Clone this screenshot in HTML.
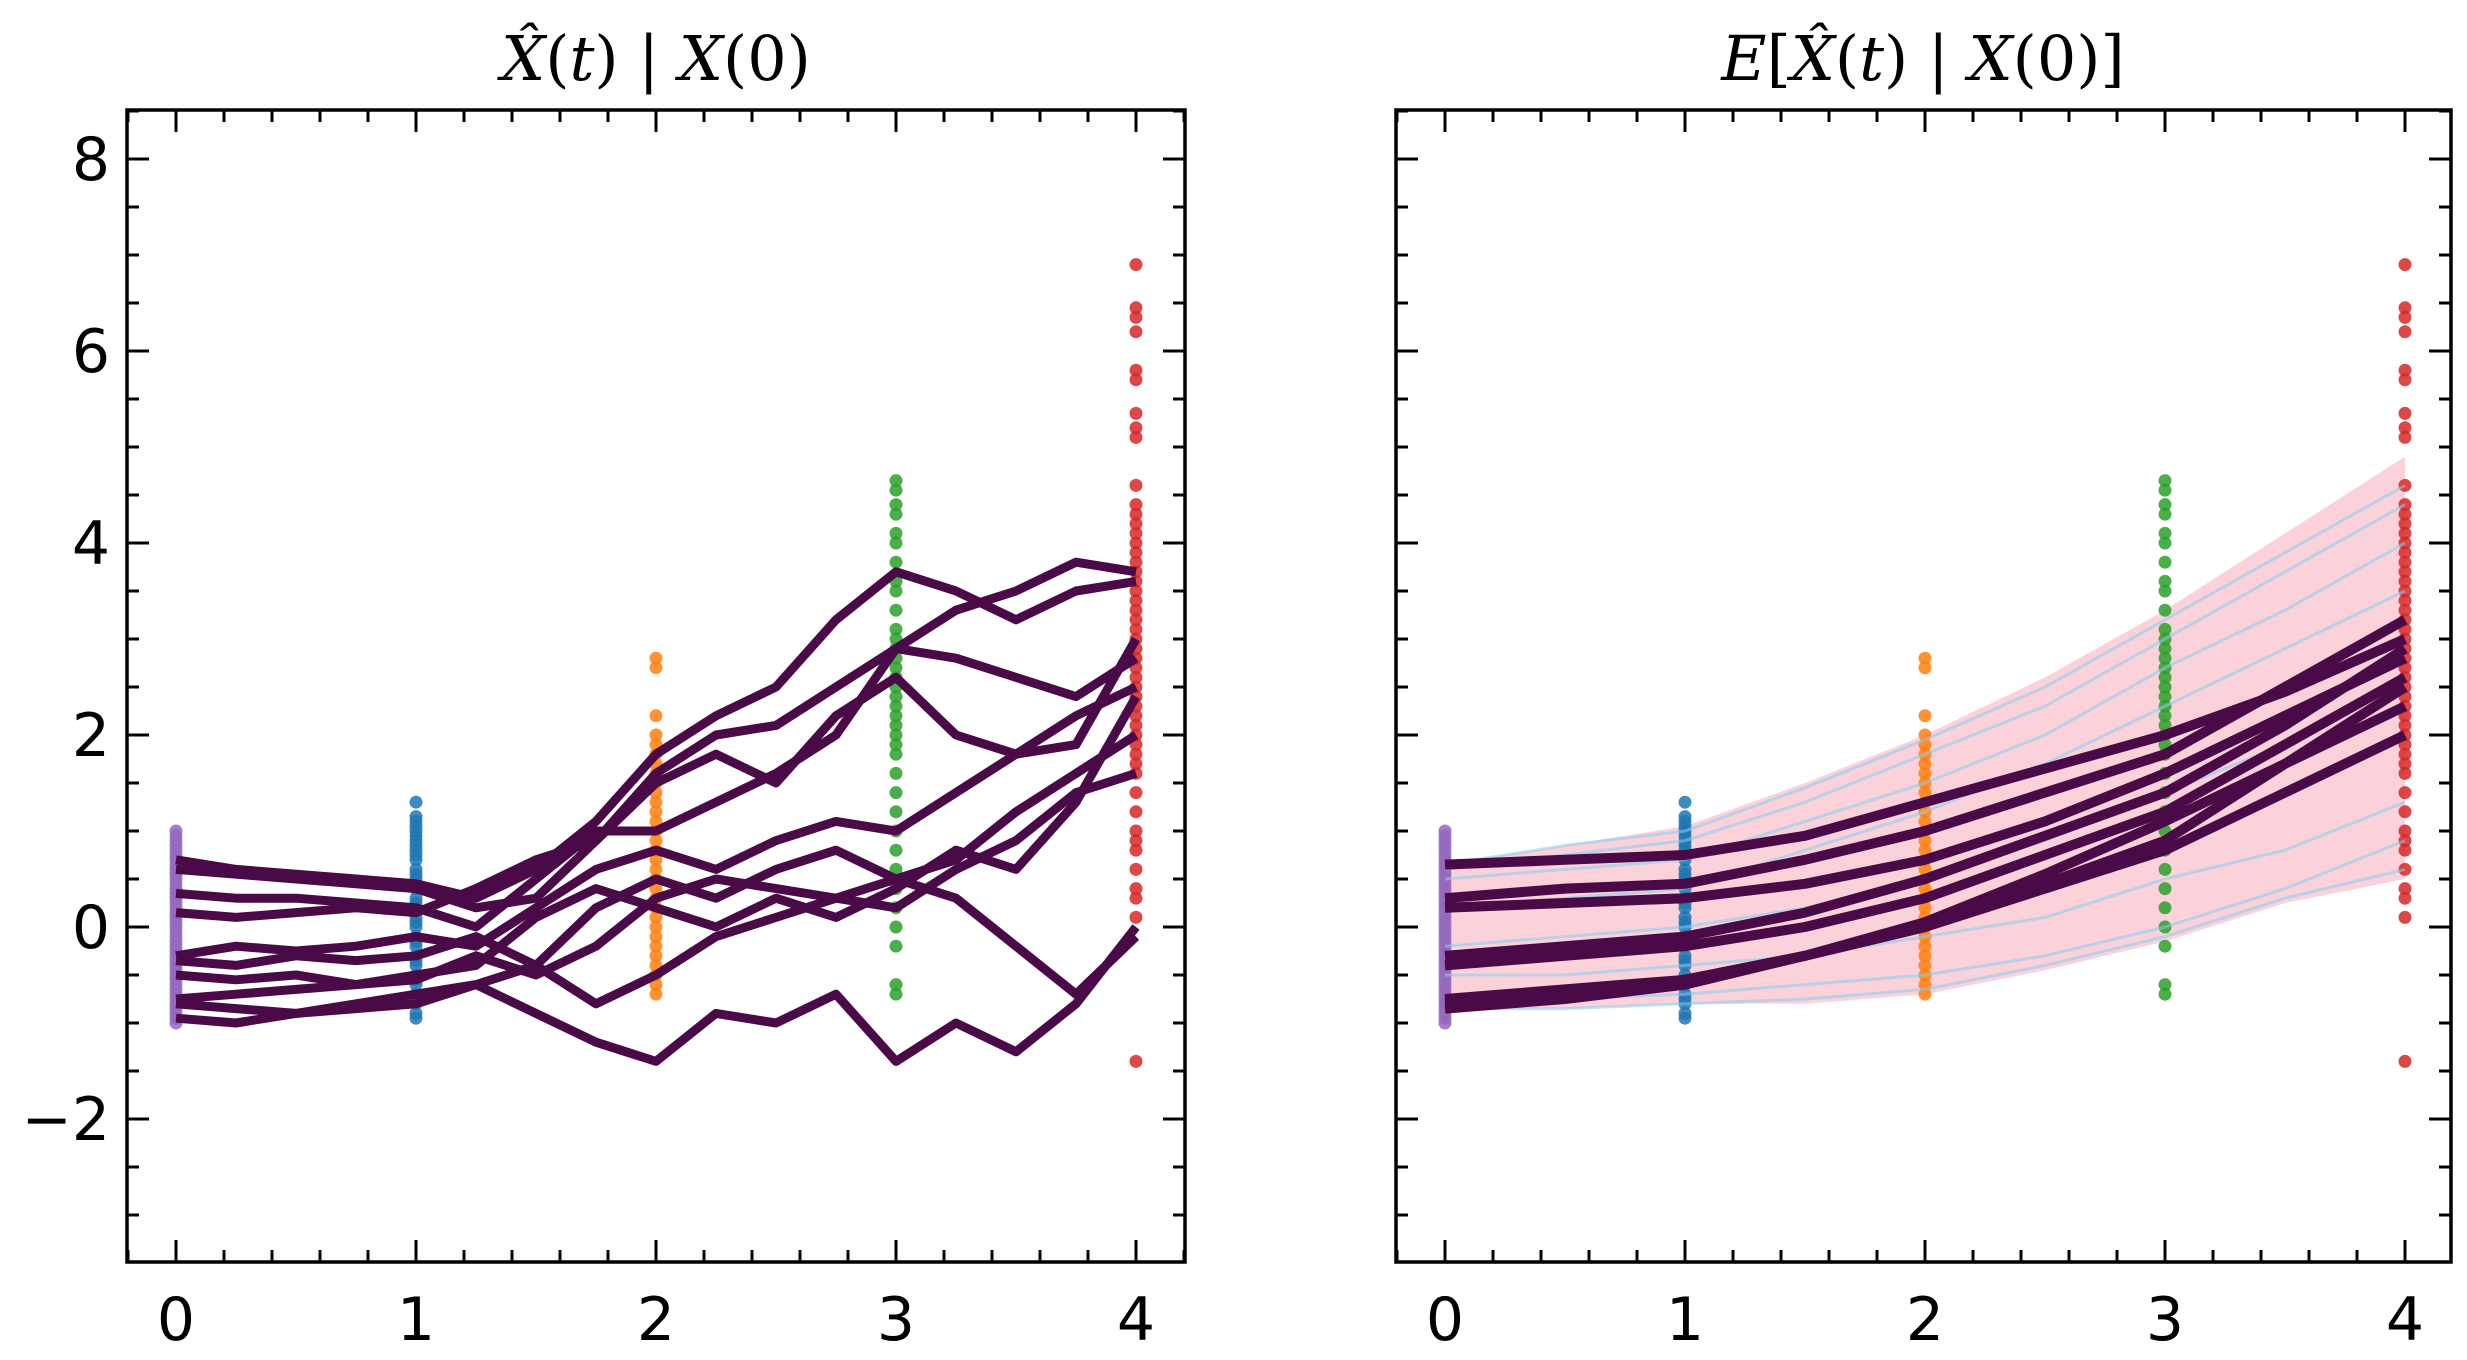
<!DOCTYPE html>
<html><head><meta charset="utf-8"><style>
html,body{margin:0;padding:0;background:#fff;}
svg{display:block;}
text{font-family:"DejaVu Sans","Liberation Sans",sans-serif;}
.ttl{font-family:"DejaVu Serif","Liberation Serif",serif;font-size:62px;}
.it{font-style:italic;}
</style></head><body>
<svg id="c" width="2467" height="1360" viewBox="0 0 2467 1360" xmlns="http://www.w3.org/2000/svg">
<text class="ttl" x="656" y="80" text-anchor="middle"><tspan class="it">X̂</tspan>(<tspan class="it">t</tspan>) | <tspan class="it">X</tspan>(0)</text>
<text class="ttl" x="1923" y="80" text-anchor="middle"><tspan class="it">E</tspan>[<tspan class="it">X̂</tspan>(<tspan class="it">t</tspan>) | <tspan class="it">X</tspan>(0)]</text>
</svg>
<script>
// ---- data ----
const tFine = [0,0.25,0.5,0.75,1,1.25,1.5,1.75,2,2.25,2.5,2.75,3,3.25,3.5,3.75,4];
const pathA = [0.7,0.6,0.55,0.5,0.45,0.3,0.6,1.1,1.8,2.2,2.5,3.2,3.7,3.5,3.2,3.5,3.6];
const pathB = [0.6,0.55,0.5,0.45,0.4,0.2,0.3,0.9,1.6,2.0,2.1,2.5,2.9,3.3,3.5,3.8,3.7];
const pathC = [0.35,0.3,0.3,0.25,0.2,0.0,0.5,1.0,1.0,1.3,1.6,2.0,2.9,2.8,2.6,2.4,2.8];
const pathD = [0.15,0.1,0.15,0.2,0.15,0.4,0.7,0.9,1.5,1.8,1.5,2.2,2.6,2.0,1.8,1.9,3.0];
const pathE = [-0.3,-0.2,-0.25,-0.2,-0.1,-0.2,0.2,0.6,0.8,0.6,0.9,1.1,1.0,1.4,1.8,2.2,2.5];
const pathF = [-0.35,-0.4,-0.3,-0.35,-0.3,-0.1,-0.4,0.2,0.5,0.3,0.6,0.8,0.5,0.7,1.2,1.6,2.0];
const pathG = [-0.5,-0.55,-0.5,-0.6,-0.5,-0.4,0.1,0.4,0.2,0.0,0.3,0.1,0.4,0.8,0.6,1.3,2.4];
const pathH = [-0.75,-0.7,-0.65,-0.6,-0.55,-0.3,-0.5,-0.2,0.3,0.5,0.4,0.3,0.2,0.6,0.9,1.4,1.6];
const pathI = [-0.8,-0.85,-0.9,-0.8,-0.7,-0.6,-0.4,-0.8,-0.5,-0.1,0.1,0.3,0.5,0.3,-0.2,-0.7,-0.1];
const pathJ = [-0.95,-1.0,-0.9,-0.85,-0.8,-0.6,-0.9,-1.2,-1.4,-0.9,-1.0,-0.7,-1.4,-1.0,-1.3,-0.8,0.0];
const leftPaths = [pathA,pathB,pathC,pathD,pathE,pathF,pathG,pathH,pathI,pathJ];

const tHalf = [0,0.5,1,1.5,2,2.5,3,3.5,4];
const mean1 = [0.65,0.7,0.75,0.95,1.3,1.65,2.0,2.45,3.0];
const mean2 = [0.3,0.4,0.45,0.7,1.0,1.4,1.8,2.5,3.2];
const mean3 = [0.2,0.25,0.3,0.45,0.7,1.1,1.6,2.2,2.8];
const mean4 = [-0.3,-0.2,-0.1,0.15,0.5,0.95,1.4,2.1,2.9];
const mean5 = [-0.4,-0.3,-0.2,0.0,0.3,0.75,1.2,1.9,2.6];
const mean6 = [-0.75,-0.65,-0.55,-0.3,0.0,0.45,0.9,1.7,2.5];
const mean7 = [-0.8,-0.7,-0.55,-0.3,0.0,0.4,0.8,1.4,2.0];
const mean8 = [-0.85,-0.75,-0.6,-0.3,0.05,0.55,1.1,1.7,2.3];
const meanLines = [mean1,mean2,mean3,mean4,mean5,mean6,mean7,mean8];
const bandUpper = [0.65,0.85,1.05,1.5,2.0,2.6,3.3,4.1,4.9];
const bandLower = [-0.85,-0.85,-0.8,-0.8,-0.7,-0.45,-0.15,0.25,0.5];
const blue1 = [0.65,0.85,1.0,1.45,1.95,2.5,3.2,3.9,4.6];
const blue2 = [0.6,0.75,0.9,1.3,1.8,2.3,3.0,3.7,4.4];
const blue3 = [0.5,0.6,0.7,1.1,1.5,2.0,2.7,3.3,4.0];
const blue4 = [0.2,0.3,0.4,0.8,1.2,1.7,2.3,2.9,3.5];
const blue5 = [-0.2,-0.1,0.0,0.2,0.5,0.9,1.4,1.9,2.6];
const blue6 = [-0.5,-0.5,-0.4,-0.3,-0.1,0.1,0.5,0.8,1.3];
const blue7 = [-0.8,-0.75,-0.7,-0.6,-0.5,-0.3,0.0,0.4,0.9];
const blue8 = [-0.85,-0.85,-0.8,-0.75,-0.65,-0.4,-0.1,0.3,0.6];
const blueLines = [blue1,blue2,blue3,blue4,blue5,blue6,blue7,blue8];

const dots0 = [1.0,0.95,0.9,0.85,0.8,0.75,0.7,0.65,0.6,0.55,0.5,0.45,0.4,0.35,0.3,0.25,0.2,0.15,0.1,0.05,0.0,-0.05,-0.1,-0.15,-0.2,-0.25,-0.3,-0.35,-0.4,-0.45,-0.5,-0.55,-0.6,-0.65,-0.7,-0.75,-0.8,-0.85,-0.9,-0.95,-1.0];
const dots1 = [1.3,1.15,1.1,1.05,1.0,0.95,0.9,0.85,0.8,0.75,0.7,0.6,0.55,0.5,0.45,0.4,0.3,0.25,0.2,0.1,0.05,0.0,-0.1,-0.15,-0.2,-0.3,-0.35,-0.4,-0.5,-0.55,-0.6,-0.7,-0.75,-0.8,-0.9,-0.95];
const dots2 = [2.8,2.7,2.2,2.0,1.9,1.8,1.7,1.6,1.5,1.4,1.3,1.2,1.1,1.0,0.9,0.8,0.7,0.6,0.5,0.4,0.3,0.2,0.1,0.0,-0.1,-0.2,-0.3,-0.4,-0.5,-0.6,-0.7];
const dots3 = [4.65,4.55,4.4,4.3,4.1,4.0,3.8,3.6,3.5,3.3,3.1,3.0,2.9,2.8,2.7,2.6,2.5,2.4,2.3,2.2,2.1,2.0,1.9,1.8,1.6,1.4,1.2,1.0,0.8,0.6,0.4,0.2,0.0,-0.2,-0.6,-0.7];
const dots4 = [6.9,6.45,6.35,6.2,5.8,5.7,5.35,5.2,5.1,4.6,4.4,4.3,4.2,4.1,4.0,3.9,3.8,3.7,3.6,3.5,3.4,3.3,3.2,3.1,3.0,2.9,2.8,2.7,2.6,2.5,2.4,2.3,2.2,2.1,2.0,1.9,1.8,1.7,1.6,1.4,1.2,1.0,0.9,0.8,0.6,0.4,0.3,0.1,-1.4];
const dotSets = [dots0,dots1,dots2,dots3,dots4];
const dotColors = ['#9467bd','#1f77b4','#ff7f0e','#2ca02c','#d62728'];
const xTicks = [0,1,2,3,4];
const yTicks = [-2,0,2,4,6,8];
const yTickLabels = ['\u22122','0','2','4','6','8'];

// ---- layout ----
const svg = document.getElementById('c');
const NS = 'http://www.w3.org/2000/svg';
const panels = [{x0:127,x1:1185,name:'left'},{x0:1396,x1:2451,name:'right'}];
const yTop=110, yBot=1262;
function sx(p,t){return p.x0+49+t*240;}
function sy(v){return 927 - v*96;}
function mk(tag,attrs,parent){const e=document.createElementNS(NS,tag);for(const k in attrs)e.setAttribute(k,attrs[k]);(parent||svg).appendChild(e);return e;}
function lineD(p,ts,vals){return vals.map((v,i)=>(i?'L':'M')+sx(p,ts[i]).toFixed(1)+','+sy(v).toFixed(1)).join(' ');}

function drawDots(p,g){
  dotSets.forEach((set,i)=>{set.forEach(v=>{
    const c=mk('circle',{cx:sx(p,xTicks[i]),cy:sy(v),r:6.5,fill:dotColors[i],'fill-opacity':0.85},g);
    
    
  });});
}

function drawAxes(p,labels){
  const g=mk('g',{});
  
  
  mk('rect',{x:p.x0,y:yTop,width:p.x1-p.x0,height:yBot-yTop,fill:'none',stroke:'#000','stroke-width':3.5},g);
  for(let t=-0.4;t<=4.41;t+=0.2){
    const x=sx(p,t); if(x<=p.x0||x>=p.x1)continue;
    const major=Math.abs(t-Math.round(t))<1e-6;
    const L=major?22:12;
    mk('line',{x1:x,y1:yBot,x2:x,y2:yBot-L,stroke:'#000','stroke-width':3},g);
    mk('line',{x1:x,y1:yTop,x2:x,y2:yTop+L,stroke:'#000','stroke-width':3},g);
  }
  for(let v=-3.5;v<=8.5;v+=0.5){
    const y=sy(v); if(y<=yTop||y>=yBot)continue;
    const major=Math.abs(v/2-Math.round(v/2))<1e-6;
    const L=major?22:12;
    mk('line',{x1:p.x0,y1:y,x2:p.x0+L,y2:y,stroke:'#000','stroke-width':3},g);
    mk('line',{x1:p.x1,y1:y,x2:p.x1-L,y2:y,stroke:'#000','stroke-width':3},g);
  }
  xTicks.forEach(t=>{
    const tx=mk('text',{x:sx(p,t),y:1340,'text-anchor':'middle','font-size':60},g);
    tx.textContent=t;
    
    
  });
  if(labels){yTicks.forEach((v,i)=>{
    const tx=mk('text',{x:110,y:sy(v)+21,'text-anchor':'end','font-size':60},g);
    tx.textContent=yTickLabels[i];
    
    
  });}
}

// left panel
const L=panels[0];
const gl=mk('g',{});  
drawDots(L,gl);
leftPaths.forEach(vals=>{
  const e=mk('path',{d:lineD(L,tFine,vals),fill:'none',stroke:'#4a0a47','stroke-width':9,'stroke-linejoin':'round'},gl);
  
  
});
drawAxes(L,true);

// right panel
const R=panels[1];
const gr=mk('g',{});  
const band=mk('path',{d:lineD(R,tHalf,bandUpper)+' '+bandLower.slice().reverse().map((v,i)=>'L'+sx(R,tHalf[tHalf.length-1-i])+','+sy(v)).join(' ')+'Z',fill:'#f8b4c0','fill-opacity':0.6},gr);


drawDots(R,gr);
blueLines.forEach(vals=>{
  const e=mk('path',{d:lineD(R,tHalf,vals),fill:'none',stroke:'#87cef0','stroke-width':3,'stroke-opacity':0.55},gr);
  
  
});
meanLines.forEach(vals=>{
  const e=mk('path',{d:lineD(R,tHalf,vals),fill:'none',stroke:'#4a0a47','stroke-width':10,'stroke-linejoin':'round'},gr);
  
  
});
drawAxes(R,false);
</script>
</body></html>
